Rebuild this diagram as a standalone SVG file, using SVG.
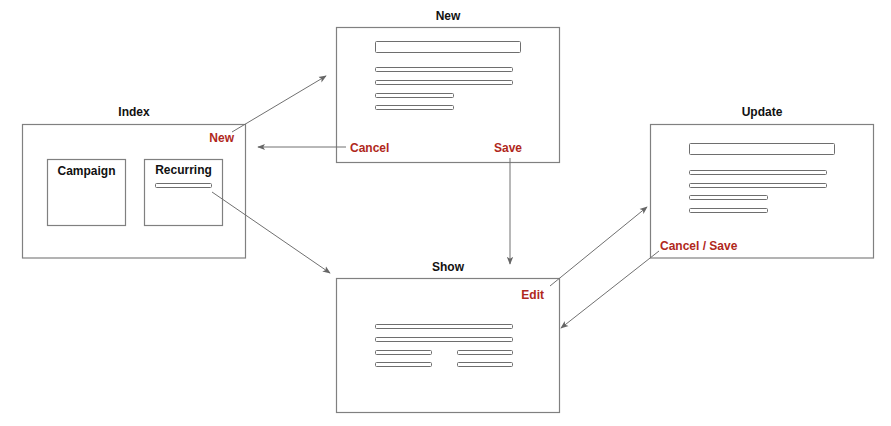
<svg xmlns="http://www.w3.org/2000/svg" width="891" height="426" viewBox="0 0 891 426">
<defs>
<style>
.frame{fill:#fff;stroke:#808080;stroke-width:1.2}
.bar{fill:#fff;stroke:#6e6e6e;stroke-width:1}
.title{font-family:"Liberation Sans",Arial,sans-serif;font-weight:bold;font-size:12px;fill:#111;text-anchor:middle}
.act{font-family:"Liberation Sans",Arial,sans-serif;font-weight:bold;font-size:12px;fill:#b0281c}
.conn{fill:none;stroke:#707070;stroke-width:1}
</style>
<marker id="ah" viewBox="0 0 10 10" refX="9" refY="5" markerWidth="8" markerHeight="8" markerUnits="userSpaceOnUse" orient="auto">
<path d="M0,1 L10,5 L0,9 L2.5,5 Z" fill="#666"/>
</marker>
</defs>
<rect width="891" height="426" fill="#fff"/>

<g id="index">
<rect class="frame" x="22.5" y="124.5" width="223" height="133.5"/>
<text class="title" x="134" y="116">Index</text>
<text class="act" x="234" y="142" text-anchor="end">New</text>
<g id="campaign">
<rect class="frame" x="47.5" y="159.5" width="78" height="66"/>
<text class="title" x="86.5" y="175">Campaign</text>
</g>
<g id="recurring">
<rect class="frame" x="144.5" y="159.5" width="78" height="66"/>
<text class="title" x="183.5" y="174">Recurring</text>
<rect class="bar" x="155.5" y="183.5" width="56" height="4" rx="1"/>
</g>
</g>

<g id="new">
<rect class="frame" x="336.5" y="27.5" width="223" height="135"/>
<text class="title" x="448" y="20">New</text>
<rect class="bar" x="375.5" y="41.5" width="145" height="11" rx="1"/>
<rect class="bar" x="375.5" y="67.5" width="137" height="4" rx="1"/>
<rect class="bar" x="375.5" y="80.5" width="137" height="4" rx="1"/>
<rect class="bar" x="375.5" y="93.5" width="78" height="4" rx="1"/>
<rect class="bar" x="375.5" y="105.5" width="78" height="4" rx="1"/>
<text class="act" x="350" y="152">Cancel</text>
<text class="act" x="508" y="152" text-anchor="middle">Save</text>
</g>

<g id="show">
<rect class="frame" x="336.5" y="278.5" width="223" height="134"/>
<text class="title" x="448" y="271">Show</text>
<text class="act" x="544" y="299" text-anchor="end">Edit</text>
<rect class="bar" x="375.5" y="324.5" width="137" height="4" rx="1"/>
<rect class="bar" x="375.5" y="337.5" width="137" height="4" rx="1"/>
<rect class="bar" x="375.5" y="350.5" width="56" height="4" rx="1"/>
<rect class="bar" x="457.5" y="350.5" width="55" height="4" rx="1"/>
<rect class="bar" x="375.5" y="362.5" width="56" height="4" rx="1"/>
<rect class="bar" x="457.5" y="362.5" width="55" height="4" rx="1"/>
</g>

<g id="update">
<rect class="frame" x="650.5" y="124.5" width="223" height="133.5"/>
<text class="title" x="762" y="116">Update</text>
<rect class="bar" x="689.5" y="143.5" width="145" height="11" rx="1"/>
<rect class="bar" x="689.5" y="170.5" width="137" height="4" rx="1"/>
<rect class="bar" x="689.5" y="183.5" width="137" height="4" rx="1"/>
<rect class="bar" x="689.5" y="195.5" width="78" height="4" rx="1"/>
<rect class="bar" x="689.5" y="208.5" width="78" height="4" rx="1"/>
<text class="act" x="660" y="250">Cancel / Save</text>
</g>

<g id="connectors">
<line class="conn" x1="232" y1="132" x2="326" y2="76" marker-end="url(#ah)"/>
<line class="conn" x1="346" y1="147" x2="258" y2="147" marker-end="url(#ah)"/>
<line class="conn" x1="212" y1="192" x2="330" y2="273" marker-end="url(#ah)"/>
<line class="conn" x1="510" y1="158" x2="510" y2="264" marker-end="url(#ah)"/>
<line class="conn" x1="550" y1="286" x2="647" y2="207" marker-end="url(#ah)"/>
<line class="conn" x1="659" y1="251" x2="561" y2="328" marker-end="url(#ah)"/>
</g>
</svg>
